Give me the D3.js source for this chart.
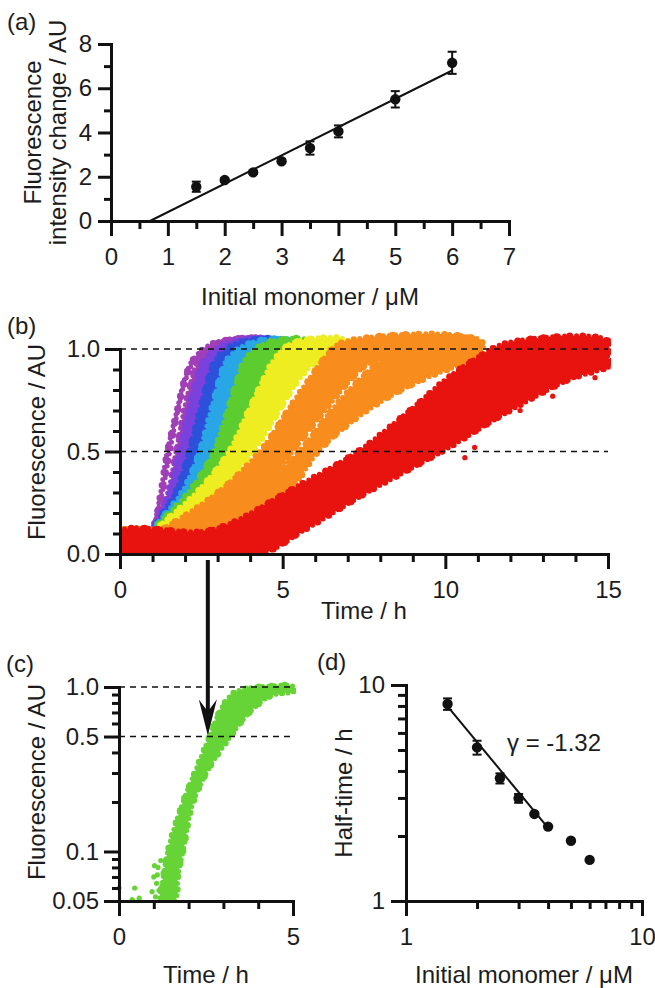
<!DOCTYPE html>
<html>
<head>
<meta charset="utf-8">
<script src="https://cdn.jsdelivr.net/npm/d3@7"></script>
<style>
  html, body { margin: 0; padding: 0; background: #fff; }
  svg { display: block; }
</style>
</head>
<body>
<svg id="fig" width="655" height="988"></svg>
<script>
// ---------- (a) fluorescence change against initial monomer ----------
const monomerA = [1.5, 2, 2.5, 3, 3.5, 4, 5, 6];
const intensityChange = [1.55, 1.85, 2.2, 2.7, 3.3, 4.05, 5.5, 7.15];
const intensityErr = [0.23, 0.08, 0.08, 0.08, 0.3, 0.27, 0.37, 0.5];
const linearSlope = 1.28;
const linearIntercept = -0.878;
const linearFitEnd = 6;

// ---------- (b) aggregation traces, one band per replicate set ----------
const traceConcentration = [6, 6, 5, 4, 3.5, 3, 2.5, 2, 2, 1.5];
const upperLevels = [0.11, 0.15, 0.3, 0.5, 0.7, 0.85, 0.95, 1.03];
const upperEdgeTimes = [
  [0.95, 1.06, 1.25, 1.45, 1.75, 1.98, 2.25, 2.9],
  [0.95, 1.07, 1.47, 1.72, 1.97, 2.2, 2.45, 3.0],
  [0.98, 1.1, 1.5, 1.82, 2.1, 2.35, 2.6, 3.3],
  [1.0, 1.12, 1.7, 2.12, 2.45, 2.7, 2.95, 3.6],
  [1.0, 1.15, 1.9, 2.44, 2.8, 3.05, 3.3, 4.0],
  [1.02, 1.2, 2.1, 2.88, 3.3, 3.6, 3.85, 4.5],
  [1.05, 1.3, 2.35, 3.35, 3.95, 4.4, 4.75, 5.3],
  [1.1, 1.6, 3.0, 4.3, 5.15, 5.8, 6.25, 6.8],
  [2.0, 2.6, 4.2, 5.5, 6.5, 7.35, 8.05, 8.8],
  [2.5, 3.4, 5.1, 7.3, 8.9, 10.0, 10.9, 11.9]
];
const lowerLevels = [0.0, 0.12, 0.3, 0.5, 0.7, 0.85, 0.93];
const lowerEdgeTimes = [
  [0.9, 1.03, 1.3, 1.53, 1.78, 2.02, 2.3],
  [0.9, 1.05, 1.55, 1.87, 2.15, 2.4, 2.65],
  [0.95, 1.1, 1.75, 2.17, 2.5, 2.75, 3.0],
  [1.0, 1.15, 1.95, 2.49, 2.85, 3.1, 3.4],
  [1.0, 1.2, 2.15, 2.93, 3.35, 3.65, 3.95],
  [1.1, 1.35, 2.4, 3.4, 4.0, 4.45, 4.85],
  [1.5, 1.9, 3.0, 4.1, 4.9, 5.5, 6.0],
  [2.5, 3.2, 4.3, 5.3, 6.3, 7.1, 7.7],
  [3.0, 3.8, 5.2, 6.1, 7.6, 9.3, 10.6],
  [4.3, 5.7, 7.6, 9.9, 12.0, 13.8, 15.2]
];
const traceEnd = [4.5, 4.6, 4.8, 5.0, 5.2, 5.8, 7.0, 11.0, 11.1, 15];
const traceBaseTop = 0.11, traceBaseBottom = -0.01, plateauTop = 1.04, plateauBottom = 0.96;
const redOutliers = [[10.6, 0.47], [10.9, 0.52], [12.3, 0.70], [13.3, 0.77], [14.6, 0.86]];
const arrowTime = 2.7;

// ---------- (c) 3 µM trace on a log axis ----------
const greenUpperEdge = [[1.2, 0.05], [1.25, 0.065], [1.4, 0.1], [1.8, 0.19], [2.2, 0.31],
  [2.6, 0.5], [2.95, 0.75], [3.3, 0.92], [3.8, 0.99], [4.3, 1.01], [5.0, 1.01]];
const greenLowerEdge = [[1.6, 0.05], [1.7, 0.072], [1.88, 0.11], [2.1, 0.19], [2.55, 0.31], [3.2, 0.5],
  [3.75, 0.7], [4.3, 0.87], [4.7, 0.92], [5.0, 0.93]];
const greenEarlyPoints = [[0.0, 0.06], [0.45, 0.06], [0.38, 0.051], [0.58, 0.052],
  [0.95, 0.057], [1.0, 0.07], [1.05, 0.053], [1.08, 0.064], [1.12, 0.08], [1.15, 0.058],
  [1.2, 0.088], [1.02, 0.082], [1.1, 0.072]];

// ---------- (d) half-time scaling ----------
const monomerD = [1.5, 2, 2.5, 3, 3.5, 4, 5, 6];
const halfTime = [8.17, 5.14, 3.7, 2.99, 2.53, 2.21, 1.90, 1.55];
const halfTimeErr = [0.5, 0.38, 0.2, 0.14, 0, 0, 0, 0];
const gammaExponent = -1.32;
const gammaPrefactor = 13.6;
const gammaFitRange = [1.5, 4];

// ---------- styling ----------
const FONT = '"Liberation Sans", Arial, Helvetica, sans-serif';
const FS = 24;
const INK = "#111";
const TEXT = "#1c1c1c";
const bandColors = ["#a03fb6", "#a03fb6", "#7a41dc", "#2d50db", "#29a6e6", "#5dcc2e", "#eded22", "#f88c1c", "#f88c1c", "#e8130f"];
const greenC = "#66d436";

const svg = d3.select("#fig");

function label(x, y, str, anchor = "middle", rotate = false) {
  const t = svg.append("text")
    .attr("font-family", FONT).attr("font-size", FS).attr("fill", TEXT)
    .attr("text-anchor", anchor).text(str);
  if (rotate) t.attr("transform", `translate(${x},${y}) rotate(-90)`);
  else t.attr("x", x).attr("y", y);
  return t;
}

function drawAxis(orient, scale, pos, majors, labels, minors, majorLen, minorLen, pad) {
  const mk = orient === "bottom" ? d3.axisBottom : d3.axisLeft;
  const tr = orient === "bottom" ? `translate(0,${pos})` : `translate(${pos},0)`;
  if (minors && minors.length) {
    const gm = svg.append("g").attr("transform", tr)
      .call(mk(scale).tickValues(minors).tickSize(minorLen).tickFormat("").tickSizeOuter(0));
    gm.select(".domain").remove();
    gm.selectAll(".tick line").attr("stroke", INK).attr("stroke-width", 3);
  }
  const g = svg.append("g").attr("transform", tr)
    .call(mk(scale).tickValues(majors).tickSize(majorLen).tickPadding(pad)
      .tickFormat((d, i) => labels[i]).tickSizeOuter(0));
  g.select(".domain").attr("stroke", INK).attr("stroke-width", 3).attr("stroke-linecap", "square");
  g.selectAll(".tick line").attr("stroke", INK).attr("stroke-width", 3);
  g.selectAll(".tick text").attr("fill", TEXT)
    .style("font-size", FS + "px").style("font-family", FONT);
  return g;
}

function errorBars(g, xs, ys, es, x, y, cap) {
  xs.forEach((xv, i) => {
    if (!es[i]) return;
    const x0 = x(xv), yt = y(ys[i] + es[i]), yb = y(ys[i] - es[i]);
    g.append("line").attr("x1", x0).attr("x2", x0).attr("y1", yt).attr("y2", yb)
      .attr("stroke", INK).attr("stroke-width", 2);
    [yt, yb].forEach(yy => g.append("line").attr("x1", x0 - cap).attr("x2", x0 + cap)
      .attr("y1", yy).attr("y2", yy).attr("stroke", INK).attr("stroke-width", 2));
  });
}

// scatter-cloud look: filled band with two staggered rows of dots along its rim
function cloud(g, d, color) {
  g.append("path").attr("d", d).attr("fill", color).attr("stroke", color)
    .attr("stroke-width", 5).attr("stroke-dasharray", "0 6")
    .attr("stroke-linecap", "round").attr("stroke-linejoin", "round");
  g.append("path").attr("d", d).attr("fill", "none").attr("stroke", color)
    .attr("stroke-width", 6.5).attr("stroke-dasharray", "0 13").attr("stroke-dashoffset", 4)
    .attr("stroke-linecap", "round");
}

// ================= panel (a) =================
const xA = d3.scaleLinear().domain([0, 7]).range([111, 509]);
const yA = d3.scaleLinear().domain([0, 8]).range([221, 44]);
drawAxis("bottom", xA, yA(0), d3.range(0, 8), d3.range(0, 8).map(String),
  d3.range(0.5, 7, 1), 15, 8, 12);
drawAxis("left", yA, xA(0), [0, 2, 4, 6, 8], ["0", "2", "4", "6", "8"], [1, 3, 5, 7], 13, 7, 6);

const gA = svg.append("g");
const x0Fit = -linearIntercept / linearSlope;
gA.append("path")
  .datum([x0Fit, linearFitEnd])
  .attr("d", d3.line().x(d => xA(d)).y(d => yA(linearSlope * d + linearIntercept)))
  .attr("stroke", INK).attr("stroke-width", 2).attr("fill", "none");
errorBars(gA, monomerA, intensityChange, intensityErr, xA, yA, 4.5);
gA.selectAll("circle.pa").data(monomerA).join("circle")
  .attr("cx", d => xA(d)).attr("cy", (d, i) => yA(intensityChange[i])).attr("r", 5.2).attr("fill", INK);

label(7, 30, "(a)", "start");
label(41, yA(4), "Fluorescence", "middle", true);
label(66, yA(4), "intensity change / AU", "middle", true);
label((xA(0) + xA(7)) / 2, 305, "Initial monomer / μM");

// ================= panel (b) =================
const xB = d3.scaleLinear().domain([0, 15]).range([120, 608]);
const yB = d3.scaleLinear().domain([0, 1]).range([554, 349]);

svg.append("clipPath").attr("id", "clipB").append("rect")
  .attr("x", xB(0)).attr("y", yB(1.12)).attr("width", xB(15) - xB(0) + 3).attr("height", yB(0) - yB(1.12));

const bandLine = d3.line().x(d => xB(d[0])).y(d => yB(d[1])).curve(d3.curveCatmullRomClosed.alpha(0.5));
const gB = svg.append("g").attr("clip-path", "url(#clipB)");
traceConcentration.forEach((c, i) => {
  const upper = upperEdgeTimes[i].map((t, j) => [t, upperLevels[j]]);
  const lower = lowerEdgeTimes[i].map((t, j) => [t, lowerLevels[j]]).reverse();
  const pts = [[0, traceBaseTop], ...upper, [traceEnd[i], plateauTop], [traceEnd[i], plateauBottom],
    ...lower, [0, traceBaseBottom]];
  cloud(gB, bandLine(pts), bandColors[i]);
});
gB.selectAll("circle.out").data(redOutliers).join("circle")
  .attr("cx", d => xB(d[0])).attr("cy", d => yB(d[1])).attr("r", 2.6).attr("fill", bandColors[9]);

[1, 0.5].forEach(v => svg.append("line")
  .attr("x1", xB(0)).attr("x2", xB(15)).attr("y1", yB(v)).attr("y2", yB(v))
  .attr("stroke", INK).attr("stroke-width", 1.6).attr("stroke-dasharray", "6 5"));

drawAxis("bottom", xB, yB(0), [0, 5, 10, 15], ["0", "5", "10", "15"],
  d3.range(1, 15).filter(d => d % 5), 15, 8, 12);
drawAxis("left", yB, xB(0), [0, 0.5, 1], ["0.0", "0.5", "1.0"],
  d3.range(1, 10).filter(d => d !== 5).map(d => d / 10), 15, 7, 5);

label(7, 334, "(b)", "start");
label(45, 442, "Fluorescence / AU", "middle", true);
label((xB(0) + xB(15)) / 2, 619, "Time / h");

// ================= panel (c) =================
const xC = d3.scaleLinear().domain([0, 5]).range([119, 293]);
const yC = d3.scaleLog().domain([0.05, 1]).range([901, 687]);

svg.append("clipPath").attr("id", "clipC").append("rect")
  .attr("x", xC(0)).attr("y", yC(1.1)).attr("width", xC(5) - xC(0) + 3).attr("height", yC(0.05) - yC(1.1));
const cLine = d3.line().x(d => xC(d[0])).y(d => yC(d[1])).curve(d3.curveCatmullRomClosed.alpha(0.5));
const gC = svg.append("g").attr("clip-path", "url(#clipC)");
cloud(gC, cLine([...greenUpperEdge, ...greenLowerEdge.slice().reverse()]), greenC);
svg.selectAll("circle.early").data(greenEarlyPoints).join("circle")
  .attr("cx", d => xC(d[0])).attr("cy", d => yC(d[1])).attr("r", 2.6).attr("fill", greenC);

[1, 0.5].forEach(v => svg.append("line")
  .attr("x1", xC(0)).attr("x2", xC(5)).attr("y1", yC(v)).attr("y2", yC(v))
  .attr("stroke", INK).attr("stroke-width", 1.6).attr("stroke-dasharray", "6 5"));

drawAxis("bottom", xC, yC(0.05), [0, 5], ["0", "5"], [1, 2, 3, 4], 15, 8, 12);
drawAxis("left", yC, xC(0), [0.05, 0.1, 0.5, 1], ["0.05", "0.1", "0.5", "1.0"],
  [0.06, 0.07, 0.08, 0.09, 0.2, 0.3, 0.4, 0.6, 0.7, 0.8, 0.9], 15, 7, 5);

label(6, 672, "(c)", "start");
label(45, 782, "Fluorescence / AU", "middle", true);
label((xC(0) + xC(5)) / 2, 983, "Time / h");

// arrow linking the 3 µM trace in (b) to its log view in (c)
const ax = xB(arrowTime);
const tipY = yC(0.5) - 1;
svg.append("line").attr("x1", ax).attr("x2", ax).attr("y1", yB(0) + 6).attr("y2", tipY - 20)
  .attr("stroke", INK).attr("stroke-width", 4);
svg.append("path")
  .attr("d", `M${ax},${tipY} L${ax - 9},${tipY - 36} L${ax},${tipY - 24} L${ax + 9},${tipY - 36} Z`)
  .attr("fill", INK);

// ================= panel (d) =================
const xD = d3.scaleLog().domain([1, 10]).range([406, 642]);
const yD = d3.scaleLog().domain([1, 10]).range([901, 685]);
drawAxis("bottom", xD, yD(1), [1, 10], ["1", "10"], d3.range(2, 10), 15, 8, 12);
drawAxis("left", yD, xD(1), [1, 10], ["1", "10"], d3.range(2, 10), 15, 8, 6);

const gD = svg.append("g");
gD.append("path").datum(gammaFitRange)
  .attr("d", d3.line().x(d => xD(d)).y(d => yD(gammaPrefactor * Math.pow(d, gammaExponent))))
  .attr("stroke", INK).attr("stroke-width", 2).attr("fill", "none");
errorBars(gD, monomerD, halfTime, halfTimeErr, xD, yD, 4.5);
gD.selectAll("circle.pd").data(monomerD).join("circle")
  .attr("cx", d => xD(d)).attr("cy", (d, i) => yD(halfTime[i])).attr("r", 5.2).attr("fill", INK);

label(507, 751, "γ = " + gammaExponent.toFixed(2), "start");
label(317, 670, "(d)", "start");
label(352, 793, "Half-time / h", "middle", true);
label((xD(1) + xD(10)) / 2, 983, "Initial monomer / μM");
</script>
</body>
</html>
